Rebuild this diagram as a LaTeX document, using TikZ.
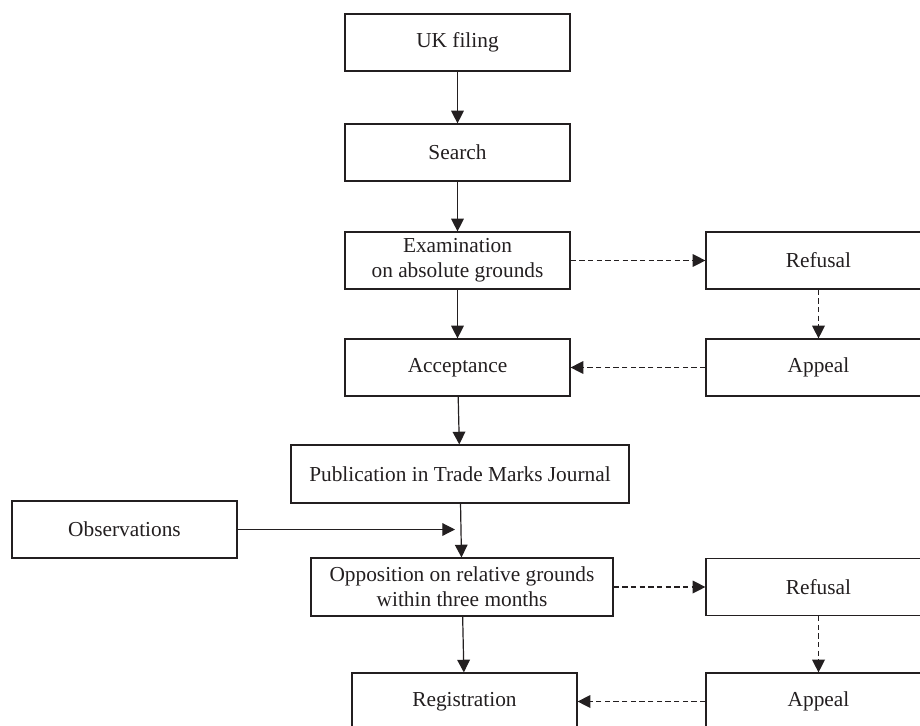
\documentclass[tikz,border=0pt]{standalone}
\usepackage{fontspec}
\setmainfont{Liberation Serif}
\usetikzlibrary{arrows.meta}
\definecolor{ink}{HTML}{231F20}
\begin{document}
\begin{tikzpicture}[x=0.75pt,y=-0.75pt,
  box/.style={draw=ink,text=ink,line width=0.9pt,minimum width=168.75pt,minimum height=42.75pt,
    align=center,inner sep=0pt,font=\fontsize{16}{19}\selectfont},
  arr/.style={draw=ink,line width=0.9pt,-{Triangle[length=9.5pt,width=9.5pt]}},
  darr/.style={arr,dash pattern=on 4pt off 2.5pt}]
  \useasboundingbox (0,0) rectangle (920,725);
  \clip (0,0) rectangle (920,725);
  % main column
  \node[box] (11) at (457.5,42.5) {UK filing};
  \node[box] (12) at (457.5,152.5) {Search};
  \node[box] (13) at (457.5,260.5) {Examination\\on absolute grounds};
  \node[box] (14) at (457.5,367.5) {Acceptance};
  \node[box,minimum width=253.5pt,minimum height=43.5pt] (15) at (460,474) {Publication in Trade Marks Journal};
  \node[box,minimum width=226.5pt,minimum height=43.5pt] (16) at (462,587) {Opposition on relative grounds\\within three months};
  \node[box] (17) at (464.5,701.5) {Registration};
  % right column
  \node[box] (21) at (818.5,260.5) {Refusal};
  \node[box] (22) at (818.5,367.5) {Appeal};
  \node[box] (23) at (818.5,587) {Refusal};
  \node[box] (24) at (818.5,701.5) {Appeal};
  % left
  \node[box] (31) at (124.5,529.5) {Observations};
  \coordinate (32) at (455,529.5);
  % connectors
  \draw[arr] (11) -- (12);
  \draw[arr] (12) -- (13);
  \draw[arr] (13) -- (14);
  \draw[arr] (14) -- (15);
  \draw[arr] (15) -- (16);
  \draw[arr] (16) -- (17);
  \draw[arr] (31) -- (32);
  \draw[darr] (13) -- (21);
  \draw[darr] (21) -- (22);
  \draw[darr] (22) -- (14);
  \draw[darr] (16) -- (23);
  \draw[darr] (23) -- (24);
  \draw[darr] (24) -- (17);
\end{tikzpicture}
\end{document}
